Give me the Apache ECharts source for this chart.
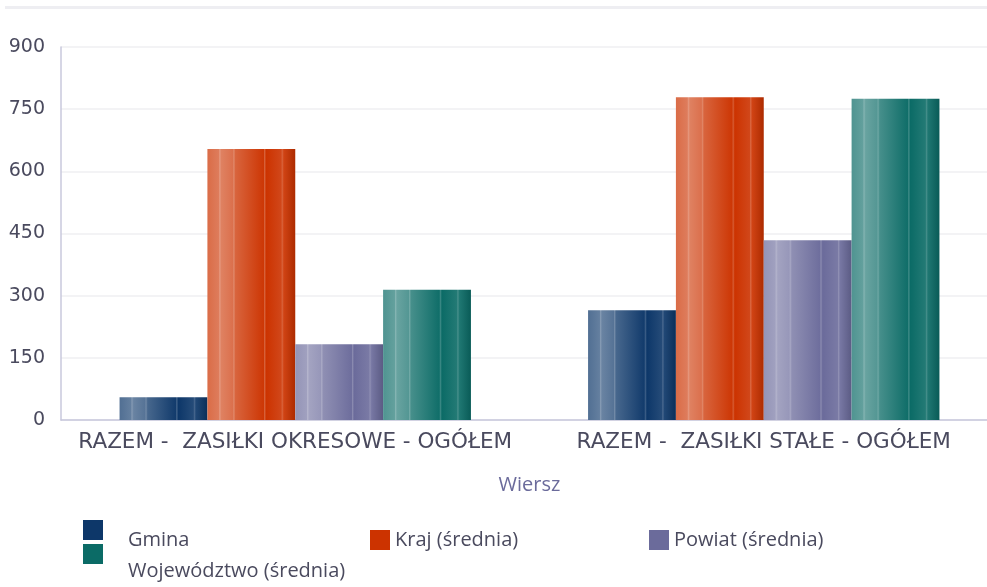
<!DOCTYPE html>
<html><head><meta charset="utf-8">
<script src="https://cdn.jsdelivr.net/npm/echarts@6/dist/echarts.min.js"></script>
<style>html,body{margin:0;padding:0;background:#fff;overflow:hidden}#c{width:998px;height:587px}</style>
</head><body><div id="c"></div>
<script>
const categories = ["RAZEM -  ZASIŁKI OKRESOWE - OGÓŁEM", "RAZEM -  ZASIŁKI STAŁE - OGÓŁEM"];
const seriesNames = ["Gmina", "Kraj (średnia)", "Powiat (średnia)", "Województwo (średnia)"];
const gminaValues = [55, 265];
const krajValues = [654, 779];
const powiatValues = [183, 434];
const wojewodztwoValues = [314, 775];
const yTicks = [0, 150, 300, 450, 600, 750, 900];
const colors = ["#0d3769", "#cc3300", "#6b6b9b", "#0b6b66"];

function mix(hex, t, target) {
  const n = parseInt(hex.slice(1), 16);
  const r = n >> 16, g = (n >> 8) & 255, b = n & 255;
  const tv = target === 'black' ? 0 : 255;
  const f = v => Math.round(v + (tv - v) * t);
  return `rgb(${f(r)},${f(g)},${f(b)})`;
}
function grad(c) {
  return new echarts.graphic.LinearGradient(0, 0, 1, 0, [
    {offset: 0, color: mix(c, 0.28)},
    {offset: 0.13, color: mix(c, 0.36)},
    {offset: 0.14, color: mix(c, 0.5)},
    {offset: 0.16, color: mix(c, 0.38)},
    {offset: 0.29, color: mix(c, 0.3)},
    {offset: 0.30, color: mix(c, 0.42)},
    {offset: 0.32, color: mix(c, 0.24)},
    {offset: 0.64, color: mix(c, 0.02)},
    {offset: 0.65, color: mix(c, 0.22)},
    {offset: 0.67, color: c},
    {offset: 0.84, color: mix(c, 0.1)},
    {offset: 0.85, color: mix(c, 0.25)},
    {offset: 0.87, color: mix(c, 0.08)},
    {offset: 1, color: mix(c, 0.15, 'black')}
  ]);
}
const dataArr = [gminaValues, krajValues, powiatValues, wojewodztwoValues];
const chart = echarts.init(document.getElementById('c'));
const legendPos = [
  {left: 83, top: 510, padL: 20, lh: 20},
  {left: 370, top: 530, padL: 0, lh: 0},
  {left: 649, top: 530, padL: 0, lh: 0},
  {left: 83, top: 520, padL: 20, lh: 34}
];
chart.setOption({
  animation: false,
  color: colors,
  graphic: [{type: 'rect', shape: {x: 5, y: 6, width: 982, height: 3}, style: {fill: '#eeeef2'}}],
  grid: {left: 61, right: 0, top: 47, bottom: 167, containLabel: false},
  legend: seriesNames.map((n, i) => ({
    data: [{name: n, itemStyle: {color: colors[i]}}],
    left: legendPos[i].left, top: legendPos[i].top,
    itemWidth: 20, itemHeight: 20, padding: 0,
    icon: 'rect',
    formatter: legendPos[i].lh ? (name => '\n' + name) : (name => name),
    textStyle: Object.assign({fontFamily: 'Open Sans', fontSize: 20, color: '#4a4a5e',
      padding: [0, 0, 0, legendPos[i].padL]}, legendPos[i].lh ? {lineHeight: legendPos[i].lh} : {})
  })),
  xAxis: {
    type: 'category', data: categories,
    name: 'Wiersz', nameLocation: 'middle', nameGap: 55,
    nameTextStyle: {fontFamily: 'Open Sans', fontSize: 20, color: '#6b6b9b'},
    axisLine: {lineStyle: {color: '#c8c8dc', width: 1.5}},
    axisTick: {show: false},
    axisLabel: {interval: 0, fontFamily: 'DejaVu Sans', fontSize: 21.5, color: '#4a4a5e', margin: 11}
  },
  yAxis: {
    type: 'value', min: 0, max: 900, interval: 150,
    axisLine: {show: true, lineStyle: {color: '#c8c8dc', width: 1.5}},
    axisTick: {show: false},
    axisLabel: {fontFamily: 'DejaVu Sans', fontSize: 19, color: '#4a4a5e', margin: 16,
      formatter: v => yTicks.includes(v) ? String(v) : ''},
    splitLine: {lineStyle: {color: '#efeff2', width: 1.5}}
  },
  series: seriesNames.map((n, i) => ({
    name: n, type: 'bar', data: dataArr[i],
    barGap: '0%', barCategoryGap: '25%',
    itemStyle: {color: grad(colors[i])}
  }))
});
</script></body></html>
